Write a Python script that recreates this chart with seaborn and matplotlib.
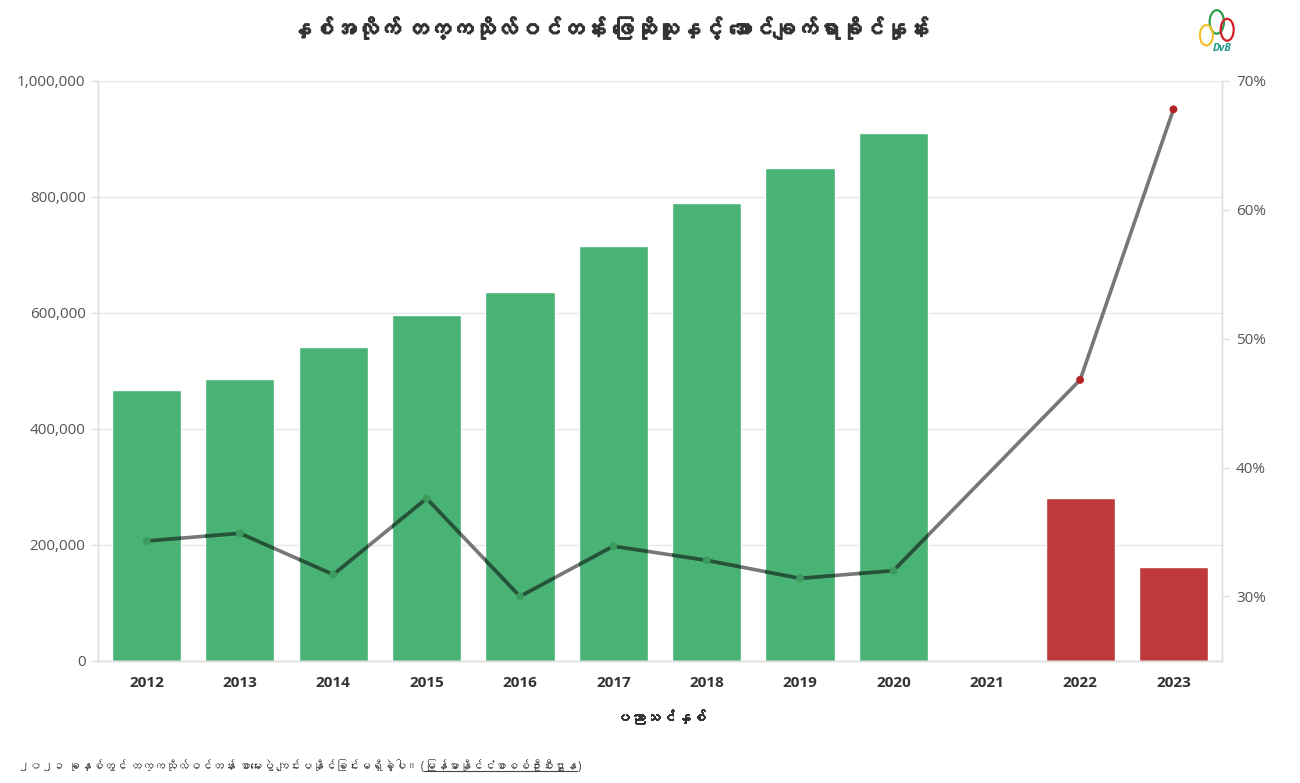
"""
Myanmar matriculation exam: candidates per year and pass rate.
Bars = number of candidates (left axis), line = pass rate (right axis).
"""

import numpy as np
import pandas as pd
import matplotlib
matplotlib.use("Agg")
import matplotlib.pyplot as plt
import matplotlib.patheffects as pe
from matplotlib import font_manager
from matplotlib.ft2font import FT2Font
from matplotlib.colors import to_rgb
from matplotlib.patches import Ellipse
from matplotlib.ticker import FuncFormatter
import seaborn as sns

# ----------------------------------------------------------------------
# DATA
# ----------------------------------------------------------------------
years = ["2012", "2013", "2014", "2015", "2016", "2017",
         "2018", "2019", "2020", "2021", "2022", "2023"]
candidates = [467000, 486000, 541000, 597000, 636000, 716000,
              790000, 850000, 910000, np.nan, 281000, 162000]
pass_rate = [34.3, 34.9, 31.7, 37.6, 30.0, 33.9,
             32.8, 31.4, 32.0, np.nan, 46.8, 67.8]

TITLE = "နှစ်အလိုက် တက္ကသိုလ်ဝင်တန်း ဖြေဆိုသူနှင့် အောင်ချက်ရာခိုင်နှုန်း"
XLABEL = "ပညာသင်နှစ်"
NOTE = "၂၀၂၁ ခုနှစ်တွင် တက္ကသိုလ်ဝင်တန်း စာမေးပွဲ ကျင်းပနိုင်ခြင်းမရှိခဲ့ပါ။ ("
SOURCE = "မြန်မာနိုင်ငံစာစစ်ဦးစီးဌာန"

GREEN = "#48B375"
RED = "#BE3A3A"
LINE = "#777777"
GRID = "#E6E6E6"
TEXT = "#333333"


def find_font(codepoint):
    """Return the name of an installed font that covers a codepoint, if any."""
    for f in font_manager.fontManager.ttflist:
        try:
            if codepoint in FT2Font(f.fname).get_charmap():
                return f.name
        except Exception:
            continue
    return None


def bold(color, w=0.9):
    # the Myanmar font has no bold face, so thicken it with a stroke
    return [pe.withStroke(linewidth=w, foreground=color)]


sns.set_theme(style="white")
mm_font = find_font(0x1000)
families = ["Open Sans"] + ([mm_font] if mm_font else []) + ["DejaVu Sans"]
plt.rcParams["font.family"] = families

df = pd.DataFrame({"year": years, "candidates": candidates, "pass_rate": pass_rate})
df["pos"] = np.arange(len(df))
palette = {y: (RED if int(y) >= 2021 else GREEN) for y in years}

fig = plt.figure(figsize=(13, 7.83), dpi=100)
ax = fig.add_axes([0.0754, 0.156, 0.8646, 0.7406])

# --- bars: candidates ---
bars = df.dropna(subset=["candidates"])
sns.barplot(data=bars, x="year", y="candidates", order=years, hue="year",
            palette={y: palette[y] for y in bars["year"]}, legend=False,
            width=0.74, saturation=1, ax=ax, zorder=2)
ax.set_xlim(-0.52, len(years) - 0.48)
ax.set_ylim(0, 1_000_000)
ax.set_yticks(range(0, 1_000_001, 200_000))
ax.yaxis.set_major_formatter(FuncFormatter(lambda v, _: f"{v:,.0f}"))
ax.yaxis.grid(True, color=GRID, lw=1, zorder=0)
ax.set_axisbelow(True)
ax.set_ylabel("")
ax.set_xlabel(XLABEL, fontsize=11, fontweight="bold", color=TEXT, labelpad=14,
              path_effects=bold(TEXT, 0.7))

# --- line: pass rate on the right axis ---
ax2 = ax.twinx()
line = df.dropna(subset=["pass_rate"])
sns.lineplot(data=line, x="pos", y="pass_rate", color=LINE, lw=2.6, ax=ax2)

# Where the line runs over a bar it is shown "multiplied" into the bar colour
for bar in ax.patches:
    dark = tuple(c * to_rgb(LINE)[0] for c in bar.get_facecolor()[:3])
    sns.lineplot(data=line, x="pos", y="pass_rate", color=dark, lw=2.6, ax=ax2)
    ax2.lines[-1].set_clip_path(bar)

marker_colors = ["#B22222" if int(y) >= 2021 else "#3C9A5F" for y in line["year"]]
ax2.scatter(line["pos"], line["pass_rate"], s=32, c=marker_colors, zorder=5,
            linewidths=0)
ax2.set_ylim(25, 70)
ax2.set_yticks(range(30, 71, 10))
ax2.yaxis.set_major_formatter(FuncFormatter(lambda v, _: f"{v:.0f}%"))
ax2.set_ylabel("")
ax2.set_xlabel("")

# --- axes styling ---
for a in (ax, ax2):
    a.spines["top"].set_visible(False)
    for side in ("left", "right", "bottom"):
        a.spines[side].set_color("#E0E0E0")
        a.spines[side].set_linewidth(1)
ax.tick_params(axis="y", length=5, width=1, color="#E0E0E0", pad=4,
               labelsize=11, labelcolor="#555555")
ax.tick_params(axis="x", length=5, width=1, color="#E0E0E0", pad=6,
               labelsize=11, labelcolor=TEXT)
for t in ax.get_xticklabels():
    t.set_fontweight("bold")
ax2.tick_params(axis="y", length=5, width=1, color="#E0E0E0", pad=5,
                labelsize=11, labelcolor="#555555")

# --- title ---
fig.text(0.469, 0.962, TITLE, ha="center", va="center", fontsize=16,
         fontweight="bold", color=TEXT, path_effects=bold(TEXT, 1.1))

# --- simplified DVB logo ---
for (x, y, w, h, c) in [(0.936, 0.972, 0.011, 0.030, "#2E9D4A"),
                        (0.944, 0.962, 0.010, 0.028, "#D0202E"),
                        (0.928, 0.955, 0.010, 0.026, "#F2C230")]:
    fig.add_artist(Ellipse((x, y), w, h, transform=fig.transFigure,
                           facecolor="none", edgecolor=c, lw=1.6))
fig.text(0.940, 0.938, "DvB", ha="center", va="center", fontsize=7.5,
         fontweight="bold", style="italic", color="#1A9A8A")

# --- footnote with underlined source ---
note = fig.text(0.014, 0.021, NOTE, ha="left", va="center", fontsize=8.5,
                color="#444444")
fig.canvas.draw()
renderer = fig.canvas.get_renderer()
bb = note.get_window_extent(renderer).transformed(fig.transFigure.inverted())
src = fig.text(bb.x1, 0.021, SOURCE, ha="left", va="center", fontsize=8.5,
               color="#444444")
bb2 = src.get_window_extent(renderer).transformed(fig.transFigure.inverted())
fig.add_artist(plt.Line2D([bb2.x0, bb2.x1], [bb2.y0 + 0.002] * 2,
                          transform=fig.transFigure, color="#444444", lw=0.8))
fig.text(bb2.x1, 0.021, ")", ha="left", va="center", fontsize=8.5, color="#444444")

fig.savefig("out.png", dpi=100, facecolor="white")
